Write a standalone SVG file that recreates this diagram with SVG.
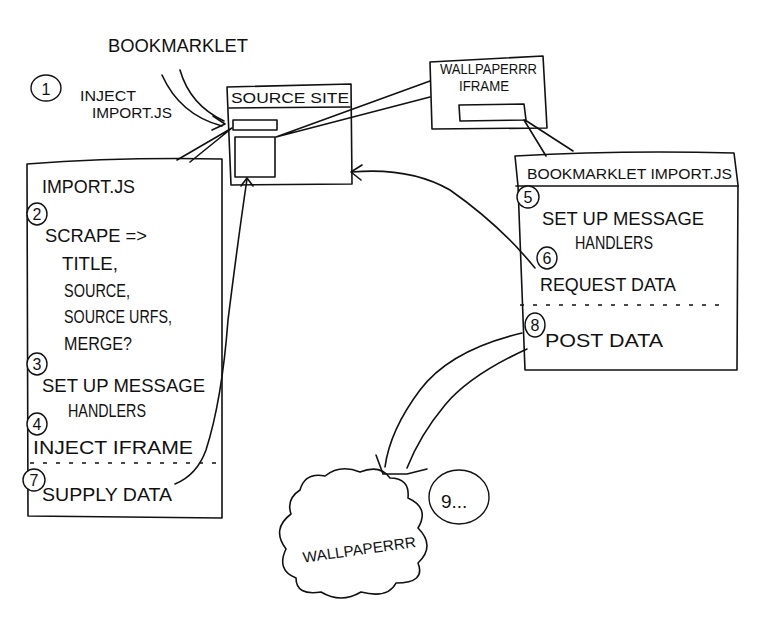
<svg xmlns="http://www.w3.org/2000/svg" width="763" height="638" viewBox="0 0 763 638">
<style>
.s{fill:none;stroke:#111;stroke-width:1.6;stroke-linecap:round;stroke-linejoin:round}
.d{fill:none;stroke:#111;stroke-width:1.3;stroke-dasharray:4 9}
text{font-family:"Liberation Sans",Arial,sans-serif;font-size:19px;fill:#111}
.sm{font-size:15px}
.n{font-size:16px;text-anchor:middle}
.c{fill:#fff;stroke:#111;stroke-width:1.4}
</style>
<rect width="763" height="638" fill="#fff"/>

<g id="bookmarklet-label">
<text x="108" y="52" font-size="21" textLength="140" lengthAdjust="spacingAndGlyphs">BOOKMARKLET</text>
</g>

<g id="step1">
<ellipse class="c" cx="46" cy="88" rx="15" ry="13"/>
<text x="46" y="95" class="n" font-size="19">1</text>
<text x="80" y="101" class="sm" textLength="56" lengthAdjust="spacingAndGlyphs">INJECT</text>
<text x="92" y="118" class="sm" textLength="80" lengthAdjust="spacingAndGlyphs">IMPORT.JS</text>
</g>

<g id="source-site">
<path class="s" d="M227,87 L351,84 L352,184 L231,185 Z"/>
<text x="231" y="103" class="sm" textLength="118" lengthAdjust="spacingAndGlyphs">SOURCE SITE</text>
<path class="s" d="M229,108 L350,107"/>
<rect class="s" x="233" y="120" width="44" height="10"/>
<rect class="s" x="235" y="137" width="40" height="40"/>
</g>

<g id="wallpaperrr-iframe">
<path class="s" d="M430,62 L543,56 L547,128 L432,129 Z"/>
<text x="440" y="74" class="sm" textLength="97" lengthAdjust="spacingAndGlyphs">WALLPAPERRR</text>
<text x="459" y="91" class="sm" textLength="50" lengthAdjust="spacingAndGlyphs">IFRAME</text>
<path class="s" d="M459,105 L524,104 L526,120 L460,121 Z"/>
</g>

<g id="import-js">
<path class="s" d="M27,164 Q120,157 222,159 L222,518 L28,516 Z"/>
<text x="42" y="193" textLength="93" lengthAdjust="spacingAndGlyphs">IMPORT.JS</text>
<ellipse class="c" cx="37" cy="214" rx="10" ry="11"/>
<text x="37" y="220" class="n">2</text>
<text x="45" y="242" textLength="102" lengthAdjust="spacingAndGlyphs">SCRAPE =&gt;</text>
<text x="62" y="270" textLength="56" lengthAdjust="spacingAndGlyphs">TITLE,</text>
<text x="64" y="297" textLength="66" lengthAdjust="spacingAndGlyphs">SOURCE,</text>
<text x="64" y="323" textLength="108" lengthAdjust="spacingAndGlyphs">SOURCE URFS,</text>
<text x="64" y="350" textLength="68" lengthAdjust="spacingAndGlyphs">MERGE?</text>
<ellipse class="c" cx="37" cy="364" rx="10" ry="11"/>
<text x="37" y="370" class="n">3</text>
<text x="42" y="392" textLength="163" lengthAdjust="spacingAndGlyphs">SET UP MESSAGE</text>
<text x="68" y="417" textLength="78" lengthAdjust="spacingAndGlyphs">HANDLERS</text>
<ellipse class="c" cx="37" cy="424" rx="10" ry="11"/>
<text x="37" y="430" class="n">4</text>
<text x="33" y="454" textLength="160" lengthAdjust="spacingAndGlyphs">INJECT IFRAME</text>
<path class="d" d="M30,463 L220,463"/>
<ellipse class="c" cx="34" cy="480" rx="11" ry="11"/>
<text x="34" y="486" class="n">7</text>
<text x="42" y="501" textLength="130" lengthAdjust="spacingAndGlyphs">SUPPLY DATA</text>
</g>

<g id="bookmarklet-import-js">
<path class="s" d="M515,156 Q620,150 734,153 L738,185 L737,370 L525,370 L518,186 Z"/>
<path class="s" d="M516,186 L738,186"/>
<text x="527" y="179" class="sm" textLength="205" lengthAdjust="spacingAndGlyphs">BOOKMARKLET IMPORT.JS</text>
<ellipse class="c" cx="528" cy="197" rx="11" ry="11"/>
<text x="528" y="203" class="n">5</text>
<text x="542" y="225" textLength="162" lengthAdjust="spacingAndGlyphs">SET UP MESSAGE</text>
<text x="575" y="249" textLength="78" lengthAdjust="spacingAndGlyphs">HANDLERS</text>
<ellipse class="c" cx="547" cy="258" rx="10" ry="11"/>
<text x="547" y="264" class="n">6</text>
<text x="540" y="291" textLength="136" lengthAdjust="spacingAndGlyphs">REQUEST DATA</text>
<path class="d" d="M520,305 L727,305"/>
<ellipse class="c" cx="535" cy="325" rx="10" ry="12"/>
<text x="535" y="331" class="n">8</text>
<text x="545" y="347" textLength="118" lengthAdjust="spacingAndGlyphs">POST DATA</text>
</g>

<g id="wallpaperrr-cloud">
<path class="s" d="M300,490 q5,-18 25,-14 q15,-12 35,-4 q20,-8 30,6 q20,0 18,20 q22,10 10,30 q18,18 0,35 q8,20 -22,20 q-8,16 -35,9 q-20,12 -40,0 q-25,4 -25,-14 q-20,-8 -10,-29 q-15,-20 5,-35 q-5,-15 9,-24 z"/>
<text x="302" y="555" class="sm" textLength="114" lengthAdjust="spacingAndGlyphs" transform="rotate(-8 358 548)">WALLPAPERRR</text>
</g>

<g id="step9">
<ellipse class="c" cx="459" cy="497" rx="30" ry="27"/>
<text x="441" y="508" font-size="23">9...</text>
</g>

<g id="connectors">
<path class="s" d="M162,75 Q180,115 222,126"/>
<path class="s" d="M180,70 Q190,105 224,121"/>
<path class="s" d="M213,116 L225,124 L212,130"/>
<path class="s" d="M177,160 L232,128 L190,162"/>
<path class="s" d="M430,81 L276,137 L430,97"/>
<path class="s" d="M524,120 L546,156 M525,120 L573,151"/>
<path class="s" d="M175,484 Q197,475 206,450 Q222,400 228,320 Q238,240 247,179"/>
<path class="s" d="M241,186 L247,178 L253,186"/>
<path class="s" d="M535,268 Q500,225 450,190 Q410,167 352,172"/>
<path class="s" d="M362,165 L351,172 L361,180"/>
<path class="s" d="M522,333 Q450,350 420,390 Q390,430 385,467"/>
<path class="s" d="M527,349 Q470,375 445,405 Q420,435 407,468"/>
<path class="s" d="M376,455 L383,474 L407,474 L427,469"/>
</g>
</svg>
